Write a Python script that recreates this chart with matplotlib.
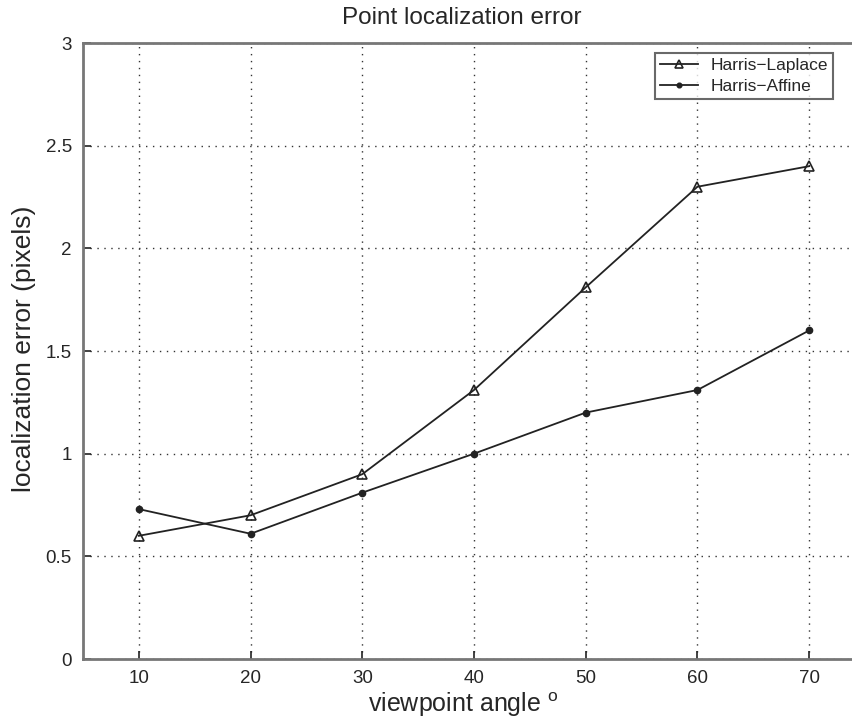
import matplotlib
matplotlib.use("Agg")
import matplotlib.pyplot as plt

angles = [10, 20, 30, 40, 50, 60, 70]
harris_laplace = [0.60, 0.70, 0.90, 1.31, 1.81, 2.30, 2.40]
harris_affine = [0.73, 0.61, 0.81, 1.00, 1.20, 1.31, 1.60]
xticks = [10, 20, 30, 40, 50, 60, 70]
yticks = [0, 0.5, 1, 1.5, 2, 2.5, 3]
ytick_labels = ["0", "0.5", "1", "1.5", "2", "2.5", "3"]

plt.rcParams['font.family'] = ['Liberation Sans', 'DejaVu Sans']
txt_color = '#262626'

fig = plt.figure(figsize=(8.52, 7.25), dpi=100)
ax = fig.add_axes([83/852, 66/725, (865-83)/852, (659-43)/725])

ax.plot(angles, harris_laplace, color='#222222', lw=1.3, marker='^', ms=7.5,
        mfc='none', mec='#222222', mew=1.2, label='Harris\u2212Laplace')
ax.plot(angles, harris_affine, color='#222222', lw=1.3, marker='o', ms=4.5,
        mfc='#222222', mec='#222222', label='Harris\u2212Affine')

ax.set_xlim(5, 75)
ax.set_ylim(0, 3)
ax.set_xticks(xticks)
ax.set_yticks(yticks)
ax.set_yticklabels(ytick_labels)
ax.grid(True, linestyle=(0, (1, 4)), color='#333333', lw=1.0)
ax.tick_params(direction='in', length=6, width=1.2, color='#222222',
               labelsize=13.5, pad=8, labelcolor=txt_color)
for s in ax.spines.values():
    s.set_color('#777777')
    s.set_linewidth(2)

leg = ax.legend(loc='upper left', bbox_to_anchor=(655/852, 1 - 53/725),
                bbox_transform=fig.transFigure, fontsize=12.5,
                frameon=True, fancybox=False, edgecolor='#444444',
                handlelength=2.2, handletextpad=0.7, borderpad=0.3,
                labelspacing=0.3, markerscale=0.75, borderaxespad=0)
leg.get_frame().set_linewidth(1.5)
for t in leg.get_texts():
    t.set_color(txt_color)

fig.text(462/852, 1 - 18/725, 'Point localization error', ha='center', va='center',
         fontsize=17.5, color=txt_color)
fig.text(463/852, 1 - 705/725, 'viewpoint angle $^{\\mathregular{o}}$', ha='center', va='center',
         fontsize=18, color=txt_color)
fig.text(24/852, 1 - 349/725, 'localization error (pixels)', ha='center', va='center',
         rotation=90, fontsize=19, color=txt_color)

fig.savefig('out.png', dpi=100)
